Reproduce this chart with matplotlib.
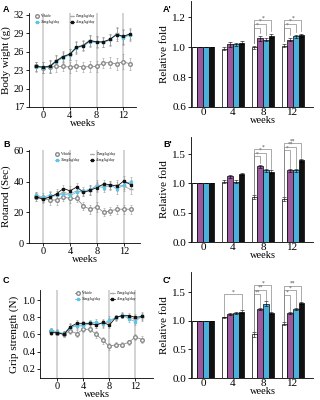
import matplotlib
matplotlib.use("Agg")
import matplotlib.pyplot as plt
import numpy as np

plt.rcParams["font.family"] = ["Liberation Serif", "DejaVu Serif"]

weeks = [-1, 0, 1, 2, 3, 4, 5, 6, 7, 8, 9, 10, 11, 12, 13]
groups = ["Vehicle", "15mg/kg/day", "30mg/kg/day", "45mg/kg/day"]

# body weight (g)
bw_vehicle = [23.6, 23.4, 23.5, 23.6, 23.6, 23.5, 23.7, 23.5, 23.6, 23.6, 24.2, 24.2, 24.0, 24.4, 24.0]
bw_15 = [23.6, 23.5, 23.7, 24.6, 25.3, 25.6, 26.8, 27.1, 27.9, 27.6, 27.5, 27.9, 29.0, 28.4, 28.7]
bw_30 = [23.5, 23.4, 23.5, 24.4, 25.0, 25.5, 26.6, 26.9, 27.6, 27.5, 27.6, 28.0, 28.8, 28.3, 28.8]
bw_45 = [23.6, 23.5, 23.6, 24.5, 25.2, 25.6, 26.7, 27.0, 27.8, 27.6, 27.6, 28.0, 28.8, 28.5, 28.9]
bw_err = [0.8, 0.9, 1.0, 0.9, 0.8, 0.9, 0.9, 0.8, 0.9, 0.9, 0.8, 0.9, 1.0, 1.2, 0.9]

# rotarod (sec)
rr_vehicle = [30, 29, 28, 28, 30, 29, 29, 24, 22, 23.5, 20, 21, 22, 22, 22]
rr_15 = [31, 29, 30, 31, 33, 32, 34, 33, 34, 38, 37, 37, 38, 37, 35]
rr_30 = [31, 30, 31, 31, 32, 31, 33, 34, 35, 37, 36, 38, 35, 38, 40]
rr_45 = [30, 28.5, 30, 32, 35.5, 34, 36.5, 33, 34.5, 36, 38.5, 38, 37, 40.5, 38]
rr_err = [2.5, 2.5, 3, 3, 2.5, 3, 2.5, 2.5, 3, 3, 2.5, 2.5, 3, 3, 3]

# grip strength (N)
gs_vehicle = [0.64, 0.62, 0.61, 0.64, 0.61, 0.66, 0.66, 0.60, 0.53, 0.46, 0.48, 0.48, 0.51, 0.57, 0.54]
gs_15 = [0.63, 0.62, 0.60, 0.68, 0.71, 0.71, 0.72, 0.72, 0.73, 0.75, 0.80, 0.82, 0.80, 0.78, 0.80]
gs_30 = [0.65, 0.63, 0.61, 0.68, 0.70, 0.70, 0.74, 0.74, 0.72, 0.77, 0.79, 0.83, 0.78, 0.75, 0.82]
gs_45 = [0.62, 0.62, 0.60, 0.69, 0.73, 0.73, 0.73, 0.71, 0.74, 0.71, 0.80, 0.82, 0.82, 0.80, 0.81]
gs_err = [0.03, 0.03, 0.03, 0.04, 0.04, 0.03, 0.03, 0.04, 0.04, 0.04, 0.03, 0.03, 0.03, 0.04, 0.04]

# relative fold bars at weeks 0, 4, 8, 12 (vehicle, 15, 30, 45)
bar_weeks = ["0", "4", "8", "12"]
fold_A = [[1.0, 1.0, 1.0, 1.0], [0.99, 1.02, 1.02, 1.03], [1.0, 1.06, 1.05, 1.075], [1.01, 1.05, 1.075, 1.08]]
fold_B = [[1.0, 1.0, 1.0, 1.0], [1.03, 1.12, 1.03, 1.16], [0.77, 1.29, 1.22, 1.20], [0.73, 1.22, 1.22, 1.39]]
fold_C = [[1.0, 1.0, 1.0, 1.0], [1.06, 1.12, 1.14, 1.16], [0.76, 1.20, 1.30, 1.13], [0.95, 1.13, 1.20, 1.31]]
fold_err_A = [[0.0, 0.0, 0.0, 0.0], [0.01, 0.015, 0.01, 0.01], [0.01, 0.015, 0.01, 0.015], [0.01, 0.01, 0.01, 0.01]]
fold_err_B = [[0.0, 0.0, 0.0, 0.0], [0.02, 0.03, 0.03, 0.02], [0.03, 0.03, 0.02, 0.03], [0.03, 0.02, 0.02, 0.03]]
fold_err_C = [[0.0, 0.0, 0.0, 0.0], [0.01, 0.02, 0.02, 0.02], [0.04, 0.02, 0.04, 0.02], [0.03, 0.02, 0.02, 0.02]]

# significance: (week group, compared group, label)
sig_A = [(2, 1, "*"), (2, 2, "*"), (2, 3, "*"), (3, 1, "*"), (3, 2, "*"), (3, 3, "*")]
sig_B = [(2, 1, "*"), (2, 2, "*"), (2, 3, "*"), (3, 1, "*"), (3, 2, "**"), (3, 3, "**")]
sig_C = [(1, 3, "*"), (2, 1, "**"), (2, 2, "**"), (2, 3, "*"), (3, 1, "*"), (3, 2, "*"), (3, 3, "**")]

line_styles = [
    dict(color="#8a8a8a", marker="o", mfc="white", mec="#8a8a8a", ms=2.6),
    dict(color="#a8a8a8", marker="_", ms=3.0),
    dict(color="#5ec4e6", marker="s", ms=2.0),
    dict(color="#111111", marker="s", ms=2.0),
]
bar_colors = ["white", "#9b5a9e", "#4bb0da", "#111111"]

W, H = 320, 400
fig = plt.figure(figsize=(3.2, 4.0), dpi=100)


def px_axes(left, top, right, bottom):
    return fig.add_axes([left / W, 1 - bottom / H, (right - left) / W, (bottom - top) / H])


def style(ax):
    for s in ["top", "right"]:
        ax.spines[s].set_visible(False)
    for s in ["left", "bottom"]:
        ax.spines[s].set_linewidth(0.6)
    ax.tick_params(width=0.6, length=2, pad=1.5)


def line_panel(ax, series, err, ylabel, ylim, yticks, xlim, legend_box, yfmt="{:g}"):
    style(ax)
    for w in [0, 4, 8, 12]:
        ax.axvline(w, color="#c8c8c8", lw=1.1, zorder=0)
    handles = []
    for vals, st in zip(series, line_styles):
        eb = ax.errorbar(weeks, vals, yerr=err, lw=0.6, elinewidth=0.4, capsize=1.0,
                         ecolor="#999999", capthick=0.4, **st)
        handles.append(eb[0])
    ax.set_ylim(*ylim)
    ax.set_yticks(yticks)
    ax.set_yticklabels([yfmt.format(v) for v in yticks], fontsize=7.5)
    ax.set_xlim(*xlim)
    ax.set_xticks([0, 4, 8, 12])
    ax.tick_params(axis="x", labelsize=7.5, pad=1)
    ax.set_ylabel(ylabel, fontsize=8, labelpad=2)
    ax.set_xlabel("weeks", fontsize=7.5, labelpad=-1)
    order = [0, 2, 1, 3]
    ax.legend([handles[i] for i in order], [groups[i] for i in order], ncol=2,
              fontsize=2.6, frameon=False, loc="upper left", bbox_to_anchor=legend_box,
              handlelength=1.2, columnspacing=2.5, handletextpad=0.6, borderaxespad=0,
              labelspacing=0.4)


def bar_panel(ax, fold, err, sig, ylim, yticks, gap, step):
    style(ax)
    fold = np.array(fold)
    err = np.array(err)
    w = 0.19
    x = np.arange(len(bar_weeks))
    for j in range(4):
        ax.bar(x + (j - 1.5) * w, fold[:, j], w, color=bar_colors[j], edgecolor="black",
               lw=0.5, yerr=err[:, j], error_kw=dict(elinewidth=0.4, capsize=1.2, capthick=0.4),
               zorder=2)
    for g, k, lab in sig:
        tops = fold[g] + err[g]
        base = tops.max() + gap
        y = base + (k - 1) * step
        x0 = x[g] - 1.5 * w
        x1 = x[g] + (k - 1.5) * w
        ax.plot([x0, x0, x1, x1], [tops[0] + 0.02, y, y, tops[k] + 0.02],
                color="#888888", lw=0.5, zorder=3)
        ax.text((x0 + x1) / 2, y, lab, ha="center", va="bottom", fontsize=4, color="#444444")
    ax.set_ylim(*ylim)
    ax.set_yticks(yticks)
    ax.set_yticklabels(["{:.1f}".format(v) for v in yticks], fontsize=8)
    ax.set_xlim(-0.4, 3.67)
    ax.set_xticks(x)
    ax.set_xticklabels(bar_weeks, fontsize=8)
    ax.tick_params(axis="x", length=0, pad=1)
    ax.set_ylabel("Relative fold", fontsize=8, labelpad=2)
    ax.set_xlabel("weeks", fontsize=7.5, labelpad=-0.5)
    ax.xaxis.set_label_coords(0.59, -0.085)


axA = px_axes(29, 13, 136, 107)
line_panel(axA, [bw_vehicle, bw_15, bw_30, bw_45], bw_err, "Body wight (g)",
           (17, 32.3), [17, 20, 23, 26, 29, 32], (-2.1, 13.9), (0.04, 1.0))

axA2 = px_axes(191, 1, 313, 107)
bar_panel(axA2, fold_A, fold_err_A, sig_A, (0.6, 1.31), [0.6, 0.8, 1.0, 1.2], 0.04, 0.025)

axB = px_axes(29, 150, 140, 243)
line_panel(axB, [rr_vehicle, rr_15, rr_30, rr_45], rr_err, "Rotarod (Sec)",
           (0, 60.6), [0, 20, 40, 60], (-2.1, 14.4), (0.22, 0.99))

axB2 = px_axes(191, 137, 313, 242)
bar_panel(axB2, fold_B, fold_err_B, sig_B, (0, 1.79), [0.0, 0.5, 1.0, 1.5], 0.14, 0.06)

axC = px_axes(40, 290, 153, 378)
line_panel(axC, [gs_vehicle, gs_15, gs_30, gs_45], gs_err, "Grip strength (N)",
           (0.09, 1.12), [0.2, 0.4, 0.6, 0.8, 1.0], (-2.66, 14.7), (0.3, 1.0), yfmt="{:.1f}")

axC2 = px_axes(191, 272, 313, 378)
bar_panel(axC2, fold_C, fold_err_C, sig_C, (0, 1.85), [0.0, 0.5, 1.0, 1.5], 0.12, 0.08)

for lab, (xp, yp) in {"A": (3, 5), "A'": (163, 5), "B": (3, 140), "B'": (163, 140),
                      "C": (3, 276), "C'": (163, 276)}.items():
    fig.text(xp / W, 1 - yp / H, lab, fontsize=6.5, fontweight="bold",
             family="Liberation Sans", va="top", ha="left")

fig.savefig("out.png", dpi=100)
